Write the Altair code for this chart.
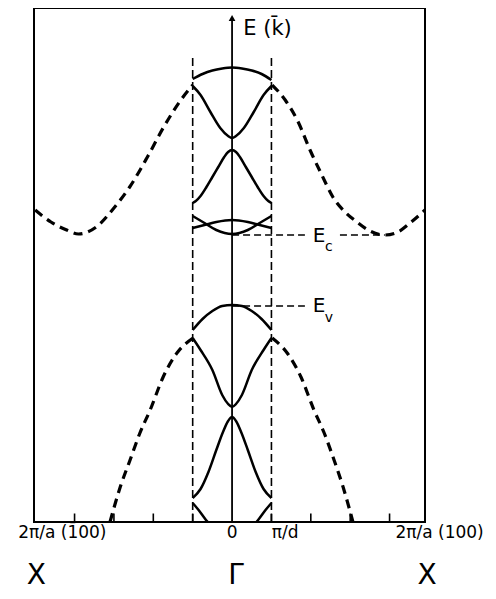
import altair as alt
import pandas as pd

# k in units of pi/d, E in arbitrary energy units
# bulk bands (dashed)
cb_left_k = [-5.0, -4.6, -4.2, -3.9, -3.45, -3.0, -2.6, -2.15, -1.75, -1.3, -1.0]
cb_left_E = [31.2, 30.0, 29.2, 28.8, 29.5, 31.4, 33.5, 36.5, 39.4, 42.2, 43.7]
cb_right_k = [1.02, 1.35, 1.68, 1.98, 2.28, 2.56, 2.87, 3.17, 3.5, 3.88, 4.21, 4.52, 4.9]
cb_right_E = [43.7, 42.2, 40.0, 37.2, 34.7, 32.5, 31.0, 30.0, 29.1, 28.7, 29.0, 29.9, 31.2]
vb_left_k = [-3.10, -2.84, -2.59, -2.34, -2.08, -1.75, -1.40, -0.99]
vb_left_E = [0.0, 3.5, 6.2, 8.9, 11.2, 14.5, 16.9, 18.4]
vb_right_k = [1.02, 1.40, 1.75, 2.08, 2.34, 2.59, 2.82, 3.07]
vb_right_E = [18.4, 16.9, 14.5, 11.2, 8.9, 6.2, 3.5, 0.0]

# folded mini-zone bands (solid)
c1_k = [-1, -0.75, -0.5, -0.25, 0, 0.25, 0.5, 0.75, 1]
c1_E = [44.3, 44.8, 45.15, 45.35, 45.45, 45.35, 45.15, 44.8, 44.2]
c2_k = [-1, -0.8, -0.55, -0.3, -0.1, 0, 0.1, 0.3, 0.55, 0.8, 1]
c2_E = [43.6, 42.7, 41.0, 39.4, 38.6, 38.4, 38.6, 39.4, 41.0, 42.7, 43.6]
c3_k = [-1, -0.92, -0.8, -0.65, -0.5, -0.35, -0.2, -0.1, 0, 0.1, 0.2, 0.35, 0.5, 0.65, 0.8, 0.92, 1]
c3_E = [31.9, 32.1, 32.6, 33.5, 34.5, 35.5, 36.5, 37.0, 37.2, 37.0, 36.5, 35.5, 34.5, 33.5, 32.6, 32.1, 31.9]
c4_k = [-1, -0.7, -0.4, 0, 0.4, 0.7, 1]
c4_E = [29.4, 29.7, 30.0, 30.2, 30.0, 29.7, 29.4]
c5_k = [-1, -0.7, -0.4, 0, 0.4, 0.7, 1]
c5_E = [30.6, 29.9, 29.2, 28.8, 29.2, 29.9, 30.6]
v1_k = [-1, -0.75, -0.5, -0.25, 0, 0.25, 0.5, 0.75, 1]
v1_E = [19.2, 20.3, 21.1, 21.6, 21.7, 21.6, 21.1, 20.3, 19.2]
v2_k = [-1, -0.8, -0.5, -0.25, -0.1, 0, 0.1, 0.25, 0.5, 0.8, 1]
v2_E = [18.4, 17.2, 15.2, 12.7, 11.8, 11.5, 11.8, 12.7, 15.2, 17.2, 18.4]
v3_k = [-1, -0.8, -0.6, -0.4, -0.23, -0.1, 0, 0.1, 0.23, 0.4, 0.6, 0.8, 1]
v3_E = [2.4, 3.3, 5.0, 7.2, 9.0, 10.1, 10.5, 10.1, 9.0, 7.2, 5.0, 3.3, 2.4]
v4l_k = [-1, -0.85, -0.7, -0.62]
v4l_E = [1.9, 1.2, 0.4, 0.0]
v4r_k = [0.62, 0.7, 0.85, 1]
v4r_E = [0.0, 0.4, 1.2, 1.9]

# guide lines
zone_k = [-1, 1]
zone_top = 46.4
Ec = 28.7
Ev = 21.6
ec_seg1 = [0, 1.85]
ec_seg2 = [2.74, 3.88]
ev_seg = [0, 1.85]
axis_top = 50.4
tick_k = [-4, -3, -2, -1, 1, 2, 3, 4]

# labels
lab_text = ["E (k\u0304)", "E", "c", "E", "v",
            "2\u03c0/a (1\u030400)", "0", "\u03c0/d", "2\u03c0/a (100)",
            "X", "\u0393", "X"]
lab_k = [0.9, 2.21, 2.46, 2.21, 2.46, -4.31, 0.0, 1.35, 5.27, -4.97, 0.1, 4.95]
lab_E = [49.3, 28.6, 27.5, 21.6, 20.4, -1.1, -1.1, -1.1, -1.1, -5.4, -5.4, -5.4]
lab_size = [21, 20, 14, 20, 14, 17, 17, 17, 17, 28, 28, 28]

rows = []
def add(name, ks, Es, style):
    for k, e in zip(ks, Es):
        rows.append({"k": k, "E": e, "seg": name, "style": style})

add("cbl", cb_left_k, cb_left_E, "bulk")
add("cbr", cb_right_k, cb_right_E, "bulk")
add("vbl", vb_left_k, vb_left_E, "bulk")
add("vbr", vb_right_k, vb_right_E, "bulk")
for name, ks, Es in [("c1", c1_k, c1_E), ("c2", c2_k, c2_E), ("c3", c3_k, c3_E),
                     ("c4", c4_k, c4_E), ("c5", c5_k, c5_E), ("v1", v1_k, v1_E),
                     ("v2", v2_k, v2_E), ("v3", v3_k, v3_E), ("v4l", v4l_k, v4l_E),
                     ("v4r", v4r_k, v4r_E)]:
    add(name, ks, Es, "mini")
add("ec1", ec_seg1, [Ec, Ec], "guide")
add("ec2", ec_seg2, [Ec, Ec], "guide")
add("ev", ev_seg, [Ev, Ev], "guide")
df = pd.DataFrame(rows)

xs = alt.Scale(domain=[-5.03, 4.9], nice=False, zero=False)
ys = alt.Scale(domain=[0, 51.4], nice=False, zero=False)
X = alt.X("k:Q", scale=xs, axis=None)
Y = alt.Y("E:Q", scale=ys, axis=None)

base = alt.Chart(df)
bulk = base.transform_filter(alt.datum.style == "bulk").mark_line(
    interpolate="monotone", strokeDash=[9, 6], strokeWidth=3.2, color="black"
).encode(x=X, y=Y, detail="seg:N")
mini = base.transform_filter(alt.datum.style == "mini").mark_line(
    interpolate="monotone", strokeWidth=2.5, color="black"
).encode(x=X, y=Y, detail="seg:N")
guide = base.transform_filter(alt.datum.style == "guide").mark_line(
    strokeDash=[7, 4], strokeWidth=1.6, color="black"
).encode(x=X, y=Y, detail="seg:N")

zdf = pd.DataFrame({"k": zone_k, "E0": [0, 0], "E1": [zone_top, zone_top]})
zones = alt.Chart(zdf).mark_rule(strokeDash=[8, 4], strokeWidth=1.6, color="black").encode(
    x=X, y=alt.Y("E0:Q", scale=ys, axis=None), y2="E1:Q")

adf = pd.DataFrame({"k": [0], "E0": [0], "E1": [axis_top]})
eaxis = alt.Chart(adf).mark_rule(strokeWidth=1.8, color="black").encode(
    x=X, y=alt.Y("E0:Q", scale=ys, axis=None), y2="E1:Q")
arrow = alt.Chart(pd.DataFrame({"k": [0], "E": [axis_top]})).mark_point(
    shape="triangle-up", filled=True, size=45, color="black", opacity=1
).encode(x=X, y=Y)

tdf = pd.DataFrame({"k": tick_k, "E0": [0] * len(tick_k), "E1": [0.85] * len(tick_k)})
ticks = alt.Chart(tdf).mark_rule(strokeWidth=1.6, color="black").encode(
    x=X, y=alt.Y("E0:Q", scale=ys, axis=None), y2="E1:Q")

ldf = pd.DataFrame({"t": lab_text, "k": lab_k, "E": lab_E, "s": lab_size})
labels = alt.Chart(ldf).mark_text(font="DejaVu Sans", color="black", align="center",
                                  baseline="middle").encode(
    x=X, y=Y, text="t:N", size=alt.Size("s:Q", scale=None, legend=None))

chart = alt.layer(zones, guide, bulk, mini, eaxis, arrow, ticks, labels).properties(
    width=391, height=514,
    autosize=alt.AutoSizeParams(type="none"),
    padding={"left": 26, "top": 0, "right": 63, "bottom": 69},
).configure_view(stroke="black", strokeWidth=2)

chart.save("out.html", embed_options={"renderer": "svg", "actions": False})
